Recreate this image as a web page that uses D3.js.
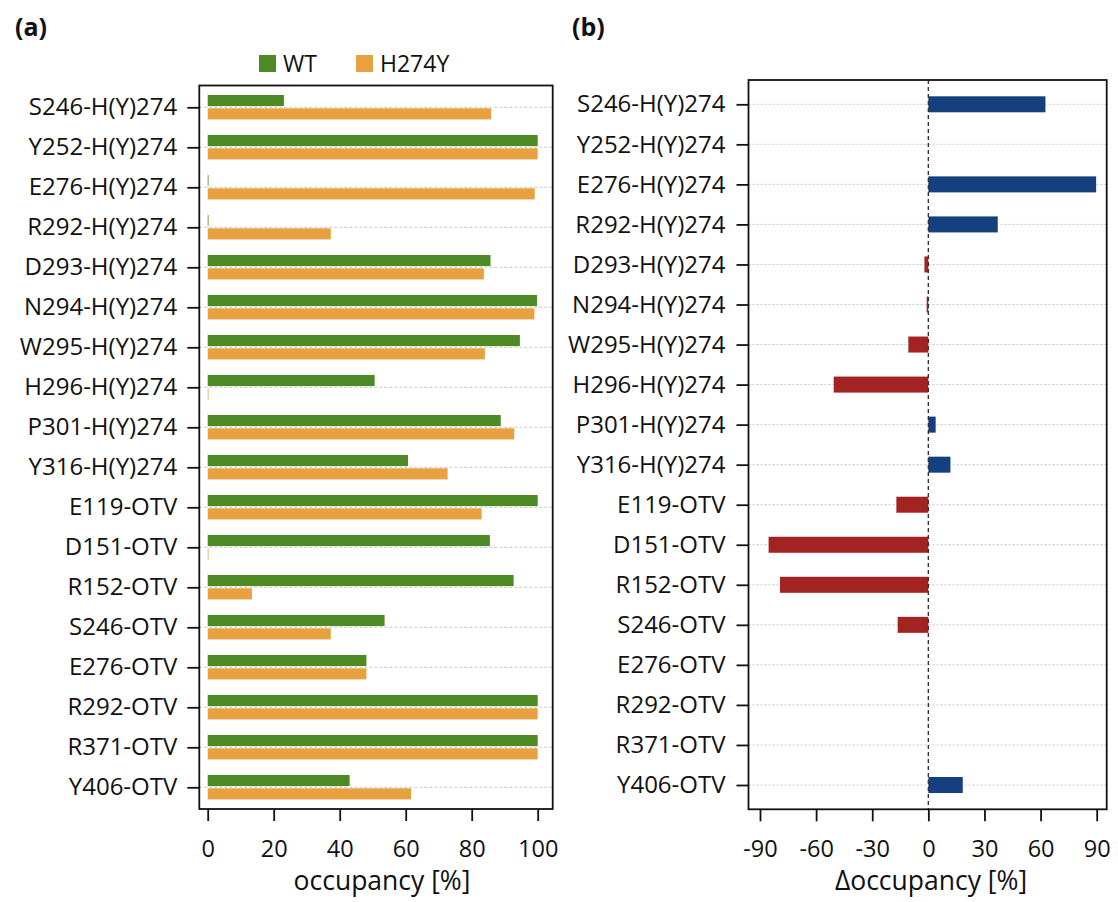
<!DOCTYPE html>
<html>
<head>
<meta charset="utf-8">
<script src="https://cdn.jsdelivr.net/npm/d3@7"></script>
<style>
  html, body { margin: 0; padding: 0; background: #fff; }
  svg { display: block; }
  text { font-family: "Open Sans", "Noto Sans", sans-serif; fill: #111; }
</style>
</head>
<body>
<svg id="chart" width="1118" height="902"></svg>
<script>
// Hydrogen-bond / contact pairs, top to bottom
const categories = [
  "S246-H(Y)274", "Y252-H(Y)274", "E276-H(Y)274", "R292-H(Y)274",
  "D293-H(Y)274", "N294-H(Y)274", "W295-H(Y)274", "H296-H(Y)274",
  "P301-H(Y)274", "Y316-H(Y)274", "E119-OTV", "D151-OTV",
  "R152-OTV", "S246-OTV", "E276-OTV", "R292-OTV", "R371-OTV", "Y406-OTV"
];

// Occupancy [%] for the wild type and the H274Y mutant
const wtOccupancy = [23.1, 100, 0, 0, 85.7, 99.8, 94.6, 50.6, 88.8, 60.7,
                     100, 85.5, 92.7, 53.6, 48.1, 100, 100, 43.0];
const h274yOccupancy = [85.9, 100, 99.1, 37.3, 83.7, 99.0, 84.0, 0, 92.9, 72.7,
                        83.0, 0, 13.4, 37.3, 48.1, 100, 100, 61.6];

// Change in occupancy [%] (H274Y relative to WT)
const deltaOccupancy = [62.6, 0, 89.7, 37.1, -2.1, -0.9, -10.7, -50.6, 3.9, 11.8,
                        -17.1, -85.4, -79.3, -16.4, 0, 0, 0, 18.4];

const occupancyTicks = [0, 20, 40, 60, 80, 100];
const deltaTicks = [-90, -60, -30, 0, 30, 60, 90];

const seriesNames = ["WT", "H274Y"];
const colors = { WT: "#4d8a23", H274Y: "#e8a13f", up: "#15407f", down: "#a32222" };

const svg = d3.select("#chart");
svg.append("rect").attr("width", 1118).attr("height", 902).attr("fill", "#fff");

const labelSize = 24, tickSize = 23.5, titleSize = 26.5;
const plainFormat = d => String(d);   // hyphen-minus for negative ticks

function styleAxis(g) {
  g.select(".domain").remove();
  g.selectAll(".tick line").attr("stroke", "#111").attr("stroke-width", 1.8);
}

// ---------- Panel (a): occupancy ----------
const A = { left: 199.3, right: 552.7, top: 85.5, bottom: 809 };
const xA = d3.scaleLinear().domain([0, 100]).range([207.7, 537.7]);
const yA = d3.scalePoint().domain(categories).range([107.3, 787.3]);

const gA = svg.append("g");

gA.append("g").selectAll("line").data(categories).join("line")
  .attr("x1", A.left).attr("x2", A.right)
  .attr("y1", d => yA(d)).attr("y2", d => yA(d))
  .attr("stroke", "#c8c8c8").attr("stroke-width", 1).attr("stroke-dasharray", "3,2");

const barsA = [
  { name: "WT", values: wtOccupancy, y0: -12.3, y1: -1.2 },
  { name: "H274Y", values: h274yOccupancy, y0: 1.0, y1: 12.1 }
];
barsA.forEach(s => {
  gA.append("g").selectAll("rect").data(categories).join("rect")
    .attr("x", xA(0))
    .attr("y", d => yA(d) + s.y0)
    .attr("width", (d, i) => Math.max(0.8, xA(s.values[i]) - xA(0)))
    .attr("height", s.y1 - s.y0)
    .attr("fill", colors[s.name]);
});

gA.append("rect")
  .attr("x", A.left).attr("y", A.top)
  .attr("width", A.right - A.left).attr("height", A.bottom - A.top)
  .attr("fill", "none").attr("stroke", "#111").attr("stroke-width", 1.8);

const yAxisA = gA.append("g").attr("transform", `translate(${A.left},0)`)
  .call(d3.axisLeft(yA).tickSize(12).tickPadding(10)).call(styleAxis);
yAxisA.selectAll(".tick text").attr("font-size", labelSize).attr("fill", "#111")
  .attr("font-family", "'Open Sans', sans-serif");

const xAxisA = gA.append("g").attr("transform", `translate(0,${A.bottom})`)
  .call(d3.axisBottom(xA).tickValues(occupancyTicks).tickFormat(plainFormat)
    .tickSize(12).tickPadding(19)).call(styleAxis);
xAxisA.selectAll(".tick text").attr("font-size", tickSize).attr("fill", "#111")
  .attr("font-family", "'Open Sans', sans-serif");

gA.append("text").attr("x", 382).attr("y", 890).attr("text-anchor", "middle")
  .attr("font-size", titleSize).text("occupancy [%]");

// legend
const legend = gA.append("g");
const legendX = [259, 356];
seriesNames.forEach((n, i) => {
  legend.append("rect").attr("x", legendX[i]).attr("y", 55).attr("width", 17).attr("height", 17)
    .attr("fill", colors[n]);
  legend.append("text").attr("x", legendX[i] + 24).attr("y", 72)
    .attr("font-size", 23).text(n);
});

svg.append("text").attr("x", 15).attr("y", 36).attr("font-size", 25)
  .attr("font-weight", "bold").text("(a)");

// ---------- Panel (b): change in occupancy ----------
const B = { left: 748.5, right: 1106.7, top: 80, bottom: 809.3 };
const xB = d3.scaleLinear().domain([-90, 90]).range([760, 1096.7]);
const yB = d3.scalePoint().domain(categories).range([104.3, 785]);

const gB = svg.append("g");

gB.append("g").selectAll("line").data(categories).join("line")
  .attr("x1", B.left).attr("x2", B.right)
  .attr("y1", d => yB(d)).attr("y2", d => yB(d))
  .attr("stroke", "#c8c8c8").attr("stroke-width", 1).attr("stroke-dasharray", "2,2");

gB.append("g").selectAll("rect").data(categories).join("rect")
  .attr("x", (d, i) => xB(Math.min(0, deltaOccupancy[i])))
  .attr("y", d => yB(d) - 8)
  .attr("width", (d, i) => Math.abs(xB(deltaOccupancy[i]) - xB(0)))
  .attr("height", 16)
  .attr("fill", (d, i) => deltaOccupancy[i] >= 0 ? colors.up : colors.down);

gB.append("line")
  .attr("x1", xB(0)).attr("x2", xB(0)).attr("y1", B.top).attr("y2", B.bottom)
  .attr("stroke", "#333").attr("stroke-width", 1.4).attr("stroke-dasharray", "4,3");

gB.append("rect")
  .attr("x", B.left).attr("y", B.top)
  .attr("width", B.right - B.left).attr("height", B.bottom - B.top)
  .attr("fill", "none").attr("stroke", "#111").attr("stroke-width", 1.8);

const yAxisB = gB.append("g").attr("transform", `translate(${B.left},0)`)
  .call(d3.axisLeft(yB).tickSize(12).tickPadding(11)).call(styleAxis);
yAxisB.selectAll(".tick text").attr("font-size", labelSize).attr("fill", "#111")
  .attr("font-family", "'Open Sans', sans-serif");

const xAxisB = gB.append("g").attr("transform", `translate(0,${B.bottom})`)
  .call(d3.axisBottom(xB).tickValues(deltaTicks).tickFormat(plainFormat)
    .tickSize(12).tickPadding(19)).call(styleAxis);
xAxisB.selectAll(".tick text").attr("font-size", tickSize).attr("fill", "#111")
  .attr("font-family", "'Open Sans', sans-serif");

gB.append("text").attr("x", 931).attr("y", 890).attr("text-anchor", "middle")
  .attr("font-size", titleSize).text("Δoccupancy [%]");

svg.append("text").attr("x", 572).attr("y", 36).attr("font-size", 25)
  .attr("font-weight", "bold").text("(b)");
</script>
</body>
</html>
